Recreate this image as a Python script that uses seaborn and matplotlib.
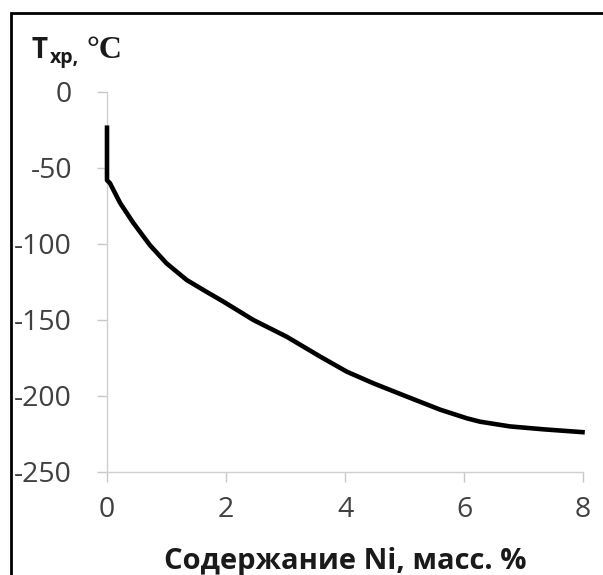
import matplotlib
matplotlib.use("Agg")
import matplotlib.pyplot as plt
import seaborn as sns
import pandas as pd
from matplotlib.patches import Rectangle

# Data
ni_content = [0.0, 0.0, 0.05, 0.22, 0.44, 0.72, 1.0, 1.34, 1.67, 1.96, 2.46, 3.02,
              3.58, 4.03, 4.48, 5.04, 5.6, 6.05, 6.27, 6.77, 7.33, 8.03]
t_cold = [-22, -58, -60, -73, -86, -100.7, -112.7, -123.7, -131.4, -138, -150, -161,
          -174, -184, -191.7, -200.4, -209, -214.7, -216.9, -220, -221.9, -223.9]
x_ticks = [0, 2, 4, 6, 8]
y_ticks = [0, -50, -100, -150, -200, -250]
x_label = "Содержание Ni, масс. %"

df = pd.DataFrame({"ni": ni_content, "t": t_cold})

sns.set_theme(style="white")
plt.rcParams["font.family"] = ["Open Sans", "DejaVu Sans"]

W, H = 603, 575
fig = plt.figure(figsize=(W / 100, H / 100), dpi=100)
fig.patch.set_facecolor("white")

left, right, bottom, top = 107, 583, 472, 92
ax = fig.add_axes([left / W, 1 - bottom / H, (right - left) / W, (bottom - top) / H])

sns.lineplot(data=df, x="ni", y="t", ax=ax, color="black", linewidth=3.3,
             estimator=None, sort=False)
for ln in ax.lines:
    ln.set_clip_on(False)
    ln.set_solid_joinstyle("round")
    ln.set_solid_capstyle("butt")
    ln.set_zorder(5)

ax.set_xlim(0, 8)
ax.set_ylim(-250, 0)
ax.set_xticks(x_ticks)
ax.set_yticks(y_ticks)
ax.set_xticklabels([str(v) for v in x_ticks])
ax.set_yticklabels([str(v) for v in y_ticks])
ax.set_xlabel("")
ax.set_ylabel("")

for s in ["top", "right"]:
    ax.spines[s].set_visible(False)
for s in ["left", "bottom"]:
    ax.spines[s].set_color("#d0d0d0")
    ax.spines[s].set_linewidth(1.0)

ax.tick_params(axis="both", which="major", direction="out", length=7.2, width=1.0,
               color="#c8c8c8", labelcolor="#404040", labelsize=20.5)
ax.tick_params(axis="y", pad=18, left=True)
ax.tick_params(axis="x", pad=10, bottom=True)

# x axis title
fig.text((left + right) / 2 / W, 1 - 562 / H, x_label, ha="center", va="center",
         fontsize=21, fontweight="bold", color="#1a1a1a")

# y axis title: T_xp, °C
fig.text(31 / W, 1 - 58 / H, "T", ha="left", va="baseline", fontsize=20,
         fontweight="bold", color="#1a1a1a")
fig.text(50 / W, 1 - 63 / H, "хр,", ha="left", va="baseline", fontsize=14,
         fontweight="bold", color="#1a1a1a")
fig.text(86 / W, 1 - 58 / H, "°C", ha="left", va="baseline", fontsize=23,
         fontweight="bold", family="Liberation Serif", color="#1a1a1a")

# outer border (extends past right/bottom edges)
fig.patches.append(Rectangle((10.5 / W, -0.1), 1.2, (1 - 13.5 / H) + 0.1,
                             transform=fig.transFigure, fill=False,
                             edgecolor="black", linewidth=2.0, zorder=10))

fig.savefig("out.png", dpi=100, facecolor="white")
